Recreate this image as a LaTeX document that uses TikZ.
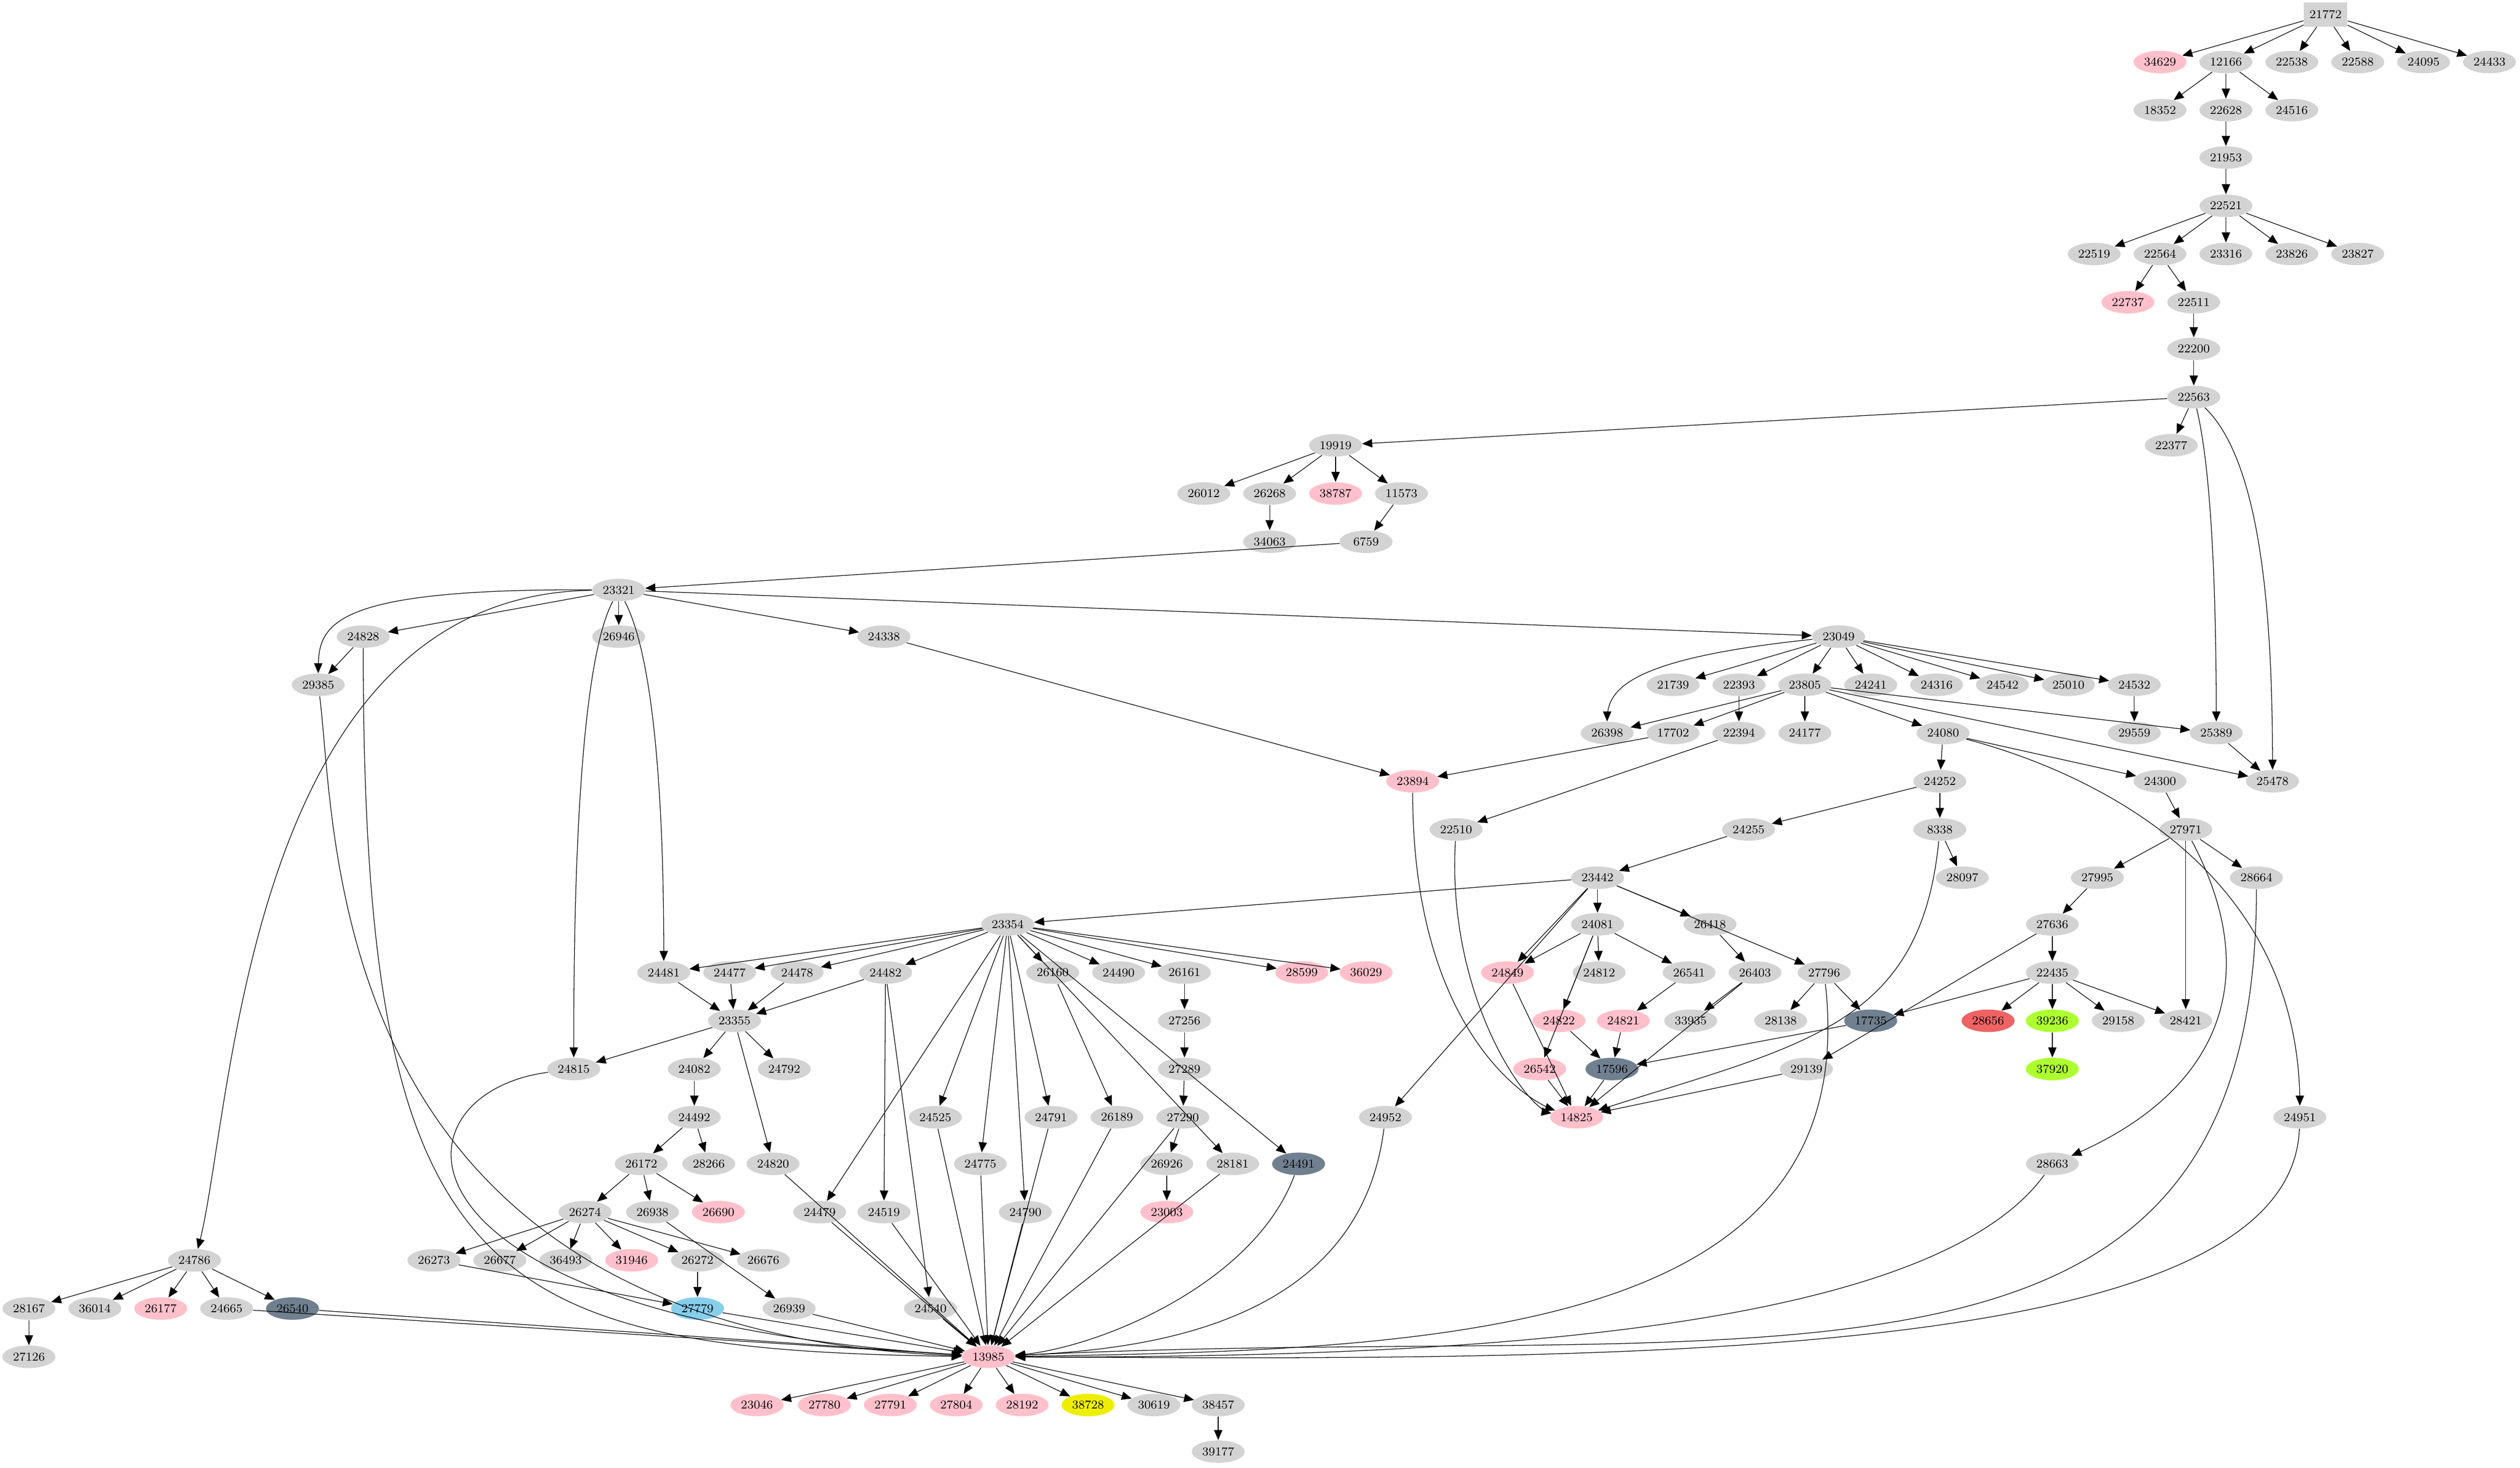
\documentclass[tikz,border=0pt]{standalone}
\usepackage{tikz}
\usetikzlibrary{arrows,shapes.geometric}

\tikzset{
  nd/.style={ellipse,fill=#1,minimum width=33pt,minimum height=14pt,inner sep=0pt,
    font=\fontsize{7.5}{9}\selectfont},
  nd/.default={lightgray}
}
\definecolor{lightgray}{HTML}{D3D3D3}
\definecolor{pinkc}{HTML}{FFC0CB}
\definecolor{slate}{HTML}{708090}
\definecolor{skyb}{HTML}{87CEEB}
\definecolor{yel}{HTML}{EEEE00}
\definecolor{grnyel}{HTML}{ADFF2F}
\definecolor{redc}{HTML}{EE6363}

\begin{document}
\begin{tikzpicture}[x=1pt,y=-1pt]
\useasboundingbox (0,0) rectangle (1568,913);
\begin{scope}[>=triangle 45,line width=0.4pt]

    % nodes
    \node[rectangle,fill=lightgray,minimum width=27pt,minimum height=15pt,inner sep=0pt,
      font=\fontsize{7.5}{9}\selectfont] (n21772) at (1447,9) {21772};
    \foreach \n/\x/\y in {12166/1385/38.6, 22538/1426/38.6, 22588/1467/38.6, 24095/1508/38.6, 24433/1549/38.6,
      18352/1344/68.5, 22628/1385/68.5, 24516/1426/68.5, 21953/1385/98, 22521/1385/128,
      22519/1303/158, 22564/1344/158, 23316/1385/158, 23826/1426/158, 23827/1467/158,
      22511/1365/188, 22200/1365/217, 22563/1365/247, 19919/831/277, 22377/1351/277,
      26012/749/307, 26268/790/307, 11573/872/307, 34063/790/337, 6759/850/337, 23321/385/367,
      24828/226/396, 26946/385/396, 24338/550/396, 23049/1144/396,
      29385/198/426, 21739/1041/426, 22393/1082/426, 23805/1123/426, 24241/1164/426,
      24316/1205/426, 24542/1246/426, 25010/1287/426, 24532/1328/426,
      26398/1000/456, 17702/1041/456, 22394/1082/456, 24177/1123/456, 24080/1209/456,
      29559/1328/456, 25389/1379/456, 24252/1207/486, 24300/1344/486, 25478/1414/486,
      22510/906/516, 24255/1088/516, 8338/1207/516, 27971/1360/516,
      23442/994/546, 28097/1221/546, 27995/1305/546, 28664/1404/546,
      23354/627/575, 24081/994/575, 26418/1064/575, 27636/1277/575,
      24481/413/605, 24477/454/605, 24478/496/605, 24482/551/605, 26160/655/605, 24490/696/605,
      26161/737/605, 24812/995/605, 26541/1051/605, 26403/1092/605, 27796/1135/605, 22435/1277/605,
      23355/457/635, 27256/737/635, 33935/1052/635, 28138/1108/635, 29158/1318/635, 28421/1360/635,
      24815/357/665, 24082/432/665, 24792/488/665, 27289/737/665, 29139/1124/665,
      24492/432/695, 24525/582/695, 24791/654/695, 26189/695/695, 27290/736/695, 24952/862/695, 24951/1431/695,
      26172/399/724, 28266/441/724, 24820/481/724, 24775/610/724, 26926/726/724, 28181/767/724, 28663/1277/724,
      26274/364/754, 26938/406/754, 24479/510/754, 24519/550/754, 24790/638/754,
      24786/121/784, 26273/270/784, 26677/311/784, 36493/352/784, 26272/434/784, 26676/475/784,
      28167/18/814, 36014/59/814, 24665/141/814, 26939/491/814, 24540/579/814,
      27126/18/844, 30619/718/874, 38457/758/874, 39177/758/903}
      \node[nd] (n\n) at (\x,\y) {\n};
    \foreach \n/\x/\y in {34629/1344/38.6, 22737/1324/188, 38787/831/307, 23894/879/486,
      28599/810/605, 36029/850/605, 24849/938/605, 24822/970/635, 24821/1010/635,
      26542/958/665, 14825/981/695, 26690/447/754, 23003/726/754, 31946/393/784,
      26177/100/814, 13985/615/844, 23046/471/874, 27780/513/874, 27791/554/874,
      27804/595/874, 28192/636/874}
      \node[nd=pinkc] (n\n) at (\x,\y) {\n};
    \foreach \n/\x/\y in {24491/808/724, 17735/1164/635, 17596/1003/665, 26540/182/814}
      \node[nd=slate] (n\n) at (\x,\y) {\n};
    \node[nd=skyb] (n27779) at (434,814) {27779};
    \node[nd=yel] (n38728) at (677,874) {38728};
    \node[nd=grnyel] (n39236) at (1277,635) {39236};
    \node[nd=grnyel] (n37920) at (1277,665) {37920};
    \node[nd=redc] (n28656) at (1237,635) {28656};

    % straight edges
    \foreach \a/\b in {21772/34629, 21772/12166, 21772/22538, 21772/22588, 21772/24095, 21772/24433,
      12166/18352, 12166/22628, 12166/24516, 22628/21953, 21953/22521,
      22521/22519, 22521/22564, 22521/23316, 22521/23826, 22521/23827,
      22564/22737, 22564/22511, 22511/22200, 22200/22563, 22563/19919, 22563/22377,
      19919/26012, 19919/26268, 19919/38787, 19919/11573, 26268/34063, 11573/6759, 6759/23321,
      23321/24828, 23321/26946, 23321/24338, 23321/23049, 24828/29385, 24338/23894,
      23049/21739, 23049/22393, 23049/23805, 23049/24241, 23049/24316, 23049/24542,
      23049/25010, 23049/24532, 22393/22394, 23805/26398, 23805/17702, 23805/24177,
      23805/24080, 23805/25389, 23805/25478, 24532/29559, 25389/25478,
      24080/24252, 24080/24300, 17702/23894, 22394/22510, 24252/24255, 24252/8338,
      24255/23442, 8338/28097, 24300/27971, 27971/27995, 27971/28664, 27971/28421,
      27995/27636, 27636/22435, 27636/29139, 22435/17735, 22435/28656, 22435/39236,
      22435/29158, 22435/28421, 39236/37920,
      23442/23354, 23442/24081, 23442/26418, 23442/27796, 23442/24849, 23442/24952,
      24081/24849, 24081/24812, 24081/26541, 24081/24822, 24081/26542,
      26418/26403, 26403/33935, 26403/14825, 26541/24821, 27796/28138, 27796/17735,
      24822/17596, 24821/17596, 17735/17596, 17596/14825, 26542/14825, 24849/14825, 29139/14825,
      23354/24481, 23354/24477, 23354/24478, 23354/24482, 23354/24479, 23354/24525,
      23354/24775, 23354/24791, 23354/24790, 23354/26160, 23354/24490, 23354/26161,
      23354/28181, 23354/24491, 23354/28599, 23354/36029,
      24481/23355, 24477/23355, 24478/23355, 24482/23355, 24482/24519, 24482/24540,
      23355/24815, 23355/24082, 23355/24792, 23355/24820, 24082/24492,
      24492/26172, 24492/28266, 26172/26274, 26172/26938, 26172/26690,
      26274/26273, 26274/26677, 26274/36493, 26274/31946, 26274/26272, 26274/26676,
      26938/26939, 26272/27779, 26273/27779, 27779/13985, 26939/13985, 24820/13985,
      24479/13985, 24519/13985, 24540/13985, 24525/13985, 24775/13985, 24790/13985,
      24791/13985, 26160/26189, 26189/13985, 26161/27256, 27256/27289, 27289/27290,
      27290/26926, 27290/13985, 26926/23003, 28181/13985,
      24786/28167, 24786/36014, 24786/26177, 24786/24665, 24786/26540, 28167/27126,
      24665/13985, 26540/13985,
      13985/23046, 13985/27780, 13985/27791, 13985/27804, 13985/28192, 13985/38728,
      13985/30619, 13985/38457, 38457/39177}
      \draw[->] (n\a) -- (n\b);

    % curved edges
    \draw[->] (n22563) .. controls (1378,300) and (1379,400) .. (n25389);
    \draw[->] (n22563) .. controls (1410,290) and (1414,400) .. (n25478);
    \draw[->] (n23321) .. controls (200,366) and (198,390) .. (n29385);
    \draw[->] (n23321) .. controls (150,370) and (145,700) .. (n24786);
    \draw[->] (n23321) .. controls (357,420) and (357,600) .. (n24815);
    \draw[->] (n23321) .. controls (413,420) and (413,560) .. (n24481);
    \draw[->] (n23049) .. controls (1010,410) and (1000,430) .. (n26398);
    \draw[->] (n24080) .. controls (1300,480) and (1431,540) .. (n24951);
    \draw[->] (n23894) .. controls (879,640) and (950,685) .. (n14825);
    \draw[->] (n22510) .. controls (900,620) and (950,690) .. (n14825);
    \draw[->] (n8338) .. controls (1195,640) and (1120,650) .. (n14825);
    \draw[->] (n27971) .. controls (1410,610) and (1380,680) .. (n28663);
    \draw[->] (n24828) .. controls (226,800) and (300,840) .. (n13985);
    \draw[->] (n29385) .. controls (210,520) and (200,830) .. (n13985);
    \draw[->] (n24815) .. controls (240,680) and (230,820) .. (n13985);
    \draw[->] (n24952) .. controls (845,830) and (700,840) .. (n13985);
    \draw[->] (n24491) .. controls (780,800) and (680,840) .. (n13985);
    \draw[->] (n27796) .. controls (1160,830) and (900,840) .. (n13985);
    \draw[->] (n28663) .. controls (1200,830) and (900,845) .. (n13985);
    \draw[->] (n28664) .. controls (1404,900) and (1100,820) .. (n13985);
    \draw[->] (n24951) .. controls (1425,850) and (1000,846) .. (n13985);

\end{scope}
\end{tikzpicture}
\end{document}
